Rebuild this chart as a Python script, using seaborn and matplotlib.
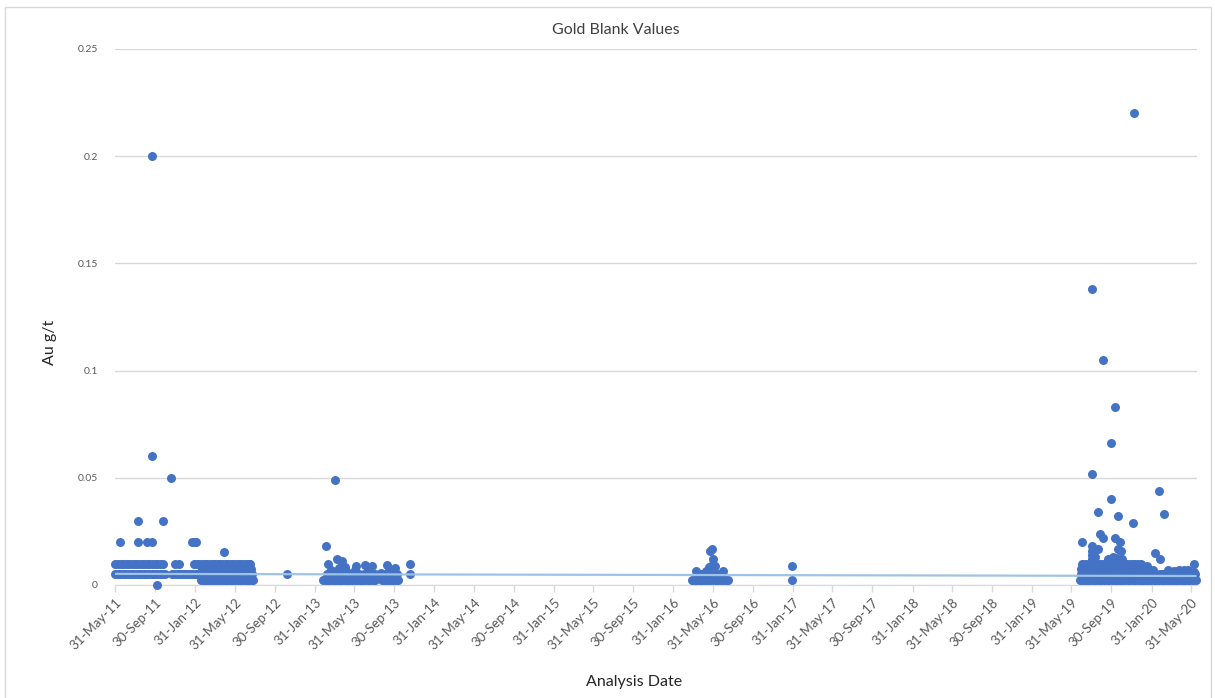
import matplotlib
matplotlib.use('Agg')
import pandas as pd
import matplotlib.pyplot as plt
from matplotlib.patches import Rectangle
import seaborn as sns

# blanks reported at the common detection-limit levels
dates_0025 = [
    '2012-02-18', '2012-02-26', '2012-03-05', '2012-03-13', '2012-03-21', '2012-03-29', '2012-04-06',
    '2012-04-14', '2012-04-22', '2012-04-30', '2012-05-08', '2012-05-16', '2012-05-24', '2012-06-01',
    '2012-06-09', '2012-06-17', '2012-06-25', '2012-07-03', '2012-07-11', '2012-07-19', '2012-07-25',
    '2013-02-25', '2013-03-05', '2013-03-13', '2013-03-21', '2013-03-29', '2013-04-06', '2013-04-14',
    '2013-04-22', '2013-04-30', '2013-05-08', '2013-05-16', '2013-05-24', '2013-06-01', '2013-06-09',
    '2013-06-17', '2013-06-25', '2013-07-03', '2013-07-11', '2013-07-19', '2013-07-27', '2013-08-02',
    '2013-08-24', '2013-09-01', '2013-09-09', '2013-09-17', '2013-09-25', '2013-10-03', '2013-10-11',
    '2016-03-28', '2016-04-05', '2016-04-13', '2016-04-21', '2016-04-29', '2016-05-07', '2016-05-15',
    '2016-05-23', '2016-05-31', '2016-06-08', '2016-06-16', '2016-06-24', '2016-07-02', '2016-07-10',
    '2016-07-15', '2017-01-28',
    '2019-06-28', '2019-07-06', '2019-07-14', '2019-07-22', '2019-07-30', '2019-08-07', '2019-08-15',
    '2019-08-23', '2019-08-31', '2019-09-08', '2019-09-16', '2019-09-24', '2019-10-02', '2019-10-10',
    '2019-10-18', '2019-10-26', '2019-11-03', '2019-11-11', '2019-11-19', '2019-11-27', '2019-12-05',
    '2019-12-13', '2019-12-21', '2019-12-29', '2020-01-06', '2020-01-14', '2020-01-22', '2020-01-30',
    '2020-02-07', '2020-02-15', '2020-02-23', '2020-03-02', '2020-03-10', '2020-03-18', '2020-03-26',
    '2020-04-03', '2020-04-11', '2020-04-19', '2020-04-27', '2020-05-05', '2020-05-13', '2020-05-21',
    '2020-05-29', '2020-06-06', '2020-06-14',
]
dates_005 = [
    '2011-05-31', '2011-06-08', '2011-06-16', '2011-06-24', '2011-07-02', '2011-07-10', '2011-07-18',
    '2011-07-26', '2011-08-03', '2011-08-11', '2011-08-19', '2011-08-27', '2011-09-04', '2011-09-12',
    '2011-09-20', '2011-09-28', '2011-10-06', '2011-10-14', '2011-10-22', '2011-10-30', '2011-11-22',
    '2011-11-30', '2011-12-08', '2011-12-16', '2011-12-24', '2012-01-01', '2012-01-09', '2012-01-17',
    '2012-01-25', '2012-02-02', '2012-02-10', '2012-02-18', '2012-02-26', '2012-03-05', '2012-03-13',
    '2012-03-21', '2012-03-29', '2012-04-06', '2012-04-14', '2012-04-22', '2012-04-30', '2012-05-08',
    '2012-05-16', '2012-05-24', '2012-06-01', '2012-06-09', '2012-06-17', '2012-06-25', '2012-07-03',
    '2012-07-11', '2012-07-19', '2012-07-24', '2012-11-08',
    '2013-03-10', '2013-03-26', '2013-04-11', '2013-04-27', '2013-05-13', '2013-05-29', '2013-06-14',
    '2013-06-30', '2013-07-16', '2013-08-01', '2013-08-25', '2013-09-10', '2013-09-26', '2013-10-10',
    '2013-11-18',
    '2016-04-25', '2016-05-11', '2016-05-27', '2016-06-12', '2016-06-28',
    '2019-06-30', '2019-07-10', '2019-07-20', '2019-07-30', '2019-08-09', '2019-08-19', '2019-08-29',
    '2019-09-08', '2019-09-18', '2019-09-28', '2019-10-08', '2019-10-18', '2019-10-28', '2019-11-07',
    '2019-11-17', '2019-11-27', '2019-12-07', '2019-12-17', '2019-12-27', '2020-01-06', '2020-01-16',
    '2020-01-26', '2020-02-05', '2020-02-15', '2020-02-25', '2020-03-06', '2020-03-16', '2020-03-26',
    '2020-04-05', '2020-04-15', '2020-04-25', '2020-05-05', '2020-05-15', '2020-05-25', '2020-06-04',
    '2020-06-12',
]
dates_0075 = [
    '2012-02-20', '2012-02-28', '2012-03-07', '2012-03-15', '2012-03-23', '2012-03-31', '2012-04-08',
    '2012-04-16', '2012-04-24', '2012-05-02', '2012-05-10', '2012-05-18', '2012-05-26', '2012-06-03',
    '2012-06-11', '2012-06-19', '2012-06-27', '2012-07-05', '2012-07-13', '2012-07-21',
    '2019-06-29', '2019-07-08', '2019-07-17', '2019-07-26', '2019-08-04', '2019-08-13', '2019-08-22',
    '2019-08-31', '2019-09-09', '2019-09-18', '2019-09-27', '2019-10-06', '2019-10-15', '2019-10-24',
    '2019-11-02', '2019-11-11', '2019-11-20', '2019-11-29', '2019-12-08', '2019-12-17', '2019-12-26',
    '2020-01-04',
]
dates_01 = [
    '2011-06-01', '2011-06-09', '2011-06-17', '2011-06-25', '2011-07-03', '2011-07-11', '2011-07-19',
    '2011-07-27', '2011-08-04', '2011-08-12', '2011-08-20', '2011-08-28', '2011-09-05', '2011-09-13',
    '2011-09-21', '2011-09-29', '2011-10-07', '2011-10-15', '2011-10-26', '2011-12-01', '2011-12-13',
    '2012-01-28', '2012-02-05', '2012-02-13', '2012-02-21', '2012-02-29', '2012-03-08', '2012-03-16',
    '2012-03-24', '2012-04-01', '2012-04-09', '2012-04-17', '2012-04-25', '2012-05-03', '2012-05-11',
    '2012-05-19', '2012-05-27', '2012-06-04', '2012-06-12', '2012-06-20', '2012-06-28', '2012-07-06',
    '2012-07-14', '2012-07-18',
    '2019-07-04', '2019-07-13', '2019-07-22', '2019-07-31', '2019-08-09', '2019-08-18', '2019-08-27',
    '2019-09-05', '2019-09-14', '2019-09-23', '2019-10-02', '2019-10-11', '2019-10-20', '2019-10-29',
    '2019-11-07', '2019-11-16', '2019-11-25', '2019-12-04', '2019-12-13', '2019-12-22', '2019-12-30',
]

# individual results away from the detection-limit rows
other_dates = [
    '2011-06-15', '2011-08-09', '2011-08-09', '2011-09-06', '2011-09-21', '2011-09-21', '2011-09-21',
    '2011-10-06', '2011-10-25', '2011-11-18', '2012-01-22', '2012-01-30', '2012-02-04', '2012-04-29',
    '2013-03-07', '2013-04-03', '2013-03-13', '2013-04-09', '2013-04-25', '2013-05-04', '2013-06-06',
    '2013-07-04', '2013-07-25', '2013-08-22', '2013-09-09', '2013-10-04', '2013-11-18', '2013-03-20',
    '2013-04-15', '2013-05-10', '2013-06-01', '2013-07-12', '2013-09-15', '2013-09-25',
    '2016-04-09', '2016-05-09', '2016-05-24', '2016-05-30', '2016-05-21', '2016-05-27', '2016-06-30',
    '2016-05-18', '2016-06-05', '2017-01-28',
    '2019-12-10', '2019-08-03', '2019-09-06', '2019-10-10', '2019-09-30', '2019-08-03', '2020-02-24',
    '2019-09-30', '2019-08-22', '2020-03-08', '2019-10-22', '2019-12-04', '2019-07-04', '2019-08-28',
    '2019-09-06', '2019-10-10', '2019-10-28', '2019-08-03', '2019-08-22', '2019-10-20', '2019-10-29',
    '2020-02-12', '2020-02-27', '2020-06-10', '2020-01-16', '2019-08-01', '2019-08-01', '2019-08-01',
    '2019-09-20', '2019-10-05', '2019-10-15', '2019-11-02', '2019-08-12', '2020-01-25', '2020-02-05',
    '2020-03-20', '2020-04-10', '2020-04-25', '2020-05-10', '2020-05-22', '2020-06-08',
]
other_au = [
    0.02, 0.03, 0.02, 0.02, 0.02, 0.06, 0.2,
    0.0, 0.03, 0.05, 0.02, 0.02, 0.02, 0.0155,
    0.018, 0.049, 0.010, 0.012, 0.011, 0.0085, 0.009,
    0.0095, 0.009, 0.0055, 0.0095, 0.008, 0.010, 0.007,
    0.008, 0.006, 0.007, 0.0075, 0.007, 0.0065,
    0.0065, 0.0065, 0.009, 0.012, 0.016, 0.017, 0.0065,
    0.0085, 0.009, 0.009,
    0.22, 0.138, 0.105, 0.083, 0.066, 0.052, 0.044,
    0.040, 0.034, 0.033, 0.032, 0.029, 0.020, 0.024,
    0.022, 0.022, 0.020, 0.018, 0.017, 0.017, 0.016,
    0.015, 0.012, 0.010, 0.009, 0.016, 0.014, 0.012,
    0.012, 0.013, 0.0125, 0.012, 0.013, 0.0065, 0.007,
    0.007, 0.0065, 0.007, 0.007, 0.007, 0.006,
]

# linear trendline as drawn on the chart
trend_dates = ['2011-05-31', '2020-06-14']
trend_au = [0.0052, 0.0042]

tick_dates = [
    '2011-05-31', '2011-09-30', '2012-01-31', '2012-05-31', '2012-09-30', '2013-01-31', '2013-05-31',
    '2013-09-30', '2014-01-31', '2014-05-31', '2014-09-30', '2015-01-31', '2015-05-31', '2015-09-30',
    '2016-01-31', '2016-05-31', '2016-09-30', '2017-01-31', '2017-05-31', '2017-09-30', '2018-01-31',
    '2018-05-31', '2018-09-30', '2019-01-31', '2019-05-31', '2019-09-30', '2020-01-31', '2020-05-31',
]

parts = [
    pd.DataFrame({'date': dates_0025, 'au': 0.0025}),
    pd.DataFrame({'date': dates_005, 'au': 0.005}),
    pd.DataFrame({'date': dates_0075, 'au': 0.0075}),
    pd.DataFrame({'date': dates_01, 'au': 0.01}),
    pd.DataFrame({'date': other_dates, 'au': other_au}),
]
blanks = pd.concat(parts, ignore_index=True)
blanks['date'] = pd.to_datetime(blanks['date'])
trend = pd.DataFrame({'date': pd.to_datetime(trend_dates), 'au': trend_au})
ticks = pd.to_datetime(tick_dates)

sns.set_style('white')
plt.rcParams['font.family'] = ['Lato', 'DejaVu Sans']

fig = plt.figure(figsize=(12.15, 6.98), dpi=100)
ax = fig.add_axes([115 / 1215, 1 - 585 / 698, (1197 - 115) / 1215, (585 - 49) / 698])

sns.scatterplot(data=blanks, x='date', y='au', ax=ax, color='#4472C4', s=42,
                linewidth=0, zorder=3, legend=False, clip_on=False)
sns.lineplot(data=trend, x='date', y='au', ax=ax, color='#9DC3E6', linewidth=1.6,
             zorder=4, legend=False)

ax.set_xlim(pd.Timestamp('2011-05-31'), pd.Timestamp('2020-06-18'))
ax.set_ylim(0, 0.25)
ax.set_yticks([0, 0.05, 0.1, 0.15, 0.2, 0.25])
ax.set_yticklabels(['0', '0.05', '0.1', '0.15', '0.2', '0.25'])
ax.set_xticks(ticks)
ax.set_xticklabels([d.strftime('%d-%b-%y') for d in ticks], rotation=45, ha='right',
                   rotation_mode='anchor')
ax.grid(axis='y', color='#d9d9d9', linewidth=1)
ax.grid(axis='x', visible=False)
for side in ['top', 'right', 'left']:
    ax.spines[side].set_visible(False)
ax.spines['bottom'].set_color('#d9d9d9')
ax.tick_params(axis='x', which='major', bottom=True, length=5, width=1, color='#d9d9d9',
               labelsize=9.5, labelcolor='#595959', pad=3)
ax.tick_params(axis='y', left=False, labelsize=7.5, labelcolor='#595959', pad=9)
ax.set_xlabel('')
ax.set_ylabel('')

fig.text(616 / 1215, 1 - 30 / 698, 'Gold Blank Values', ha='center', va='center',
         fontsize=11.5, color='#404040')
fig.text(50 / 1215, 1 - 342 / 698, 'Au g/t', ha='center', va='center', rotation=90,
         fontsize=11.5, color='#262626')
fig.text(634 / 1215, 1 - 682 / 698, 'Analysis Date', ha='center', va='center',
         fontsize=11.5, color='#262626')

fig.patches.append(Rectangle((5 / 1215, -0.05), 1206 / 1215, 1.05 - 7 / 698,
                             transform=fig.transFigure, fill=False,
                             edgecolor='#d9d9d9', linewidth=1))

fig.savefig('out.png', dpi=100)
